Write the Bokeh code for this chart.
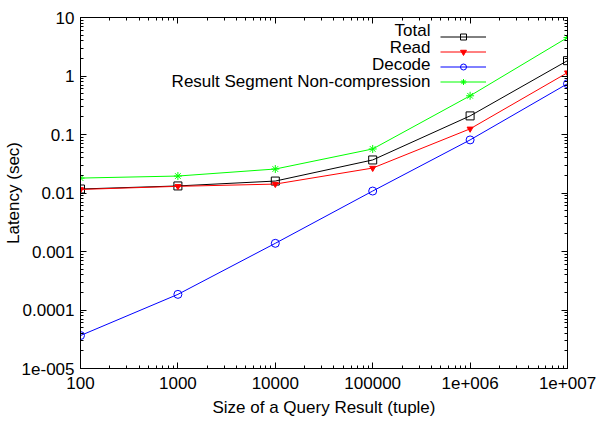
from bokeh.plotting import figure
from bokeh.models import (FixedTicker, LogAxis, Legend, LegendItem, Label, ColumnDataSource)
from bokeh.embed import file_html
from bokeh.resources import INLINE

# ---- data ----
sizes = [100, 1000, 10000, 100000, 1000000, 10000000]
total = [0.0117, 0.0132, 0.0160, 0.0367, 0.208, 1.83]
read = [0.0115, 0.0130, 0.0142, 0.0267, 0.125, 1.14]
decode = [3.66e-5, 1.85e-4, 1.38e-3, 0.0108, 0.0808, 0.738]
result_seg = [0.0180, 0.0195, 0.0257, 0.0566, 0.459, 4.54]

x_ticks = [100, 1000, 10000, 100000, 1000000, 10000000]
x_tick_labels = ["100", "1000", "10000", "100000", "1e+006", "1e+007"]
y_ticks = [1e-5, 1e-4, 1e-3, 1e-2, 1e-1, 1, 10]
y_tick_labels = ["1e-005", "0.0001", "0.001", "0.01", "0.1", "1", "10"]

series_names = ["Total", "Read", "Decode", "Result Segment Non-compression"]
series_values = [total, read, decode, result_seg]
colors = ["#000000", "#ff0000", "#0000ff", "#00ff00"]
markers = ["square", "inverted_triangle", "circle", "asterisk"]
FONT = "Liberation Sans"
FS = "17px"

p = figure(width=597, height=423, x_axis_type="log", y_axis_type="log",
           x_range=(100, 1e7), y_range=(1e-5, 10),
           output_backend="svg", toolbar_location=None,
           min_border_left=80, min_border_right=30, min_border_top=17, min_border_bottom=55)
p.xgrid.visible = False
p.ygrid.visible = False
p.outline_line_color = "black"
p.outline_line_width = 1

def minors(lo, hi):
    out = []
    e = lo
    while e < hi:
        for k in range(2, 10):
            out.append(k * 10.0 ** e)
        e += 1
    return out

xt = FixedTicker(ticks=x_ticks, minor_ticks=minors(2, 7))
yt = FixedTicker(ticks=y_ticks, minor_ticks=minors(-5, 1))

def style(ax, labels=None):
    ax.major_tick_in = 6
    ax.major_tick_out = 0
    ax.minor_tick_in = 3
    ax.minor_tick_out = 0
    ax.axis_line_color = "black"
    ax.major_tick_line_color = "black"
    ax.minor_tick_line_color = "black"
    ax.major_label_text_font = FONT
    ax.major_label_text_font_size = FS
    ax.major_label_text_color = "black"
    ax.axis_label_text_font = FONT
    ax.axis_label_text_font_size = FS
    ax.axis_label_text_font_style = "normal"
    ax.axis_label_text_color = "black"
    if labels is not None:
        ax.major_label_overrides = labels

xax = p.xaxis[0]
xax.ticker = xt
style(xax, {t: l for t, l in zip(x_ticks, x_tick_labels)})
xax.axis_label = "Size of a Query Result (tuple)"
xax.major_label_standoff = 8
xax.axis_label_standoff = 6

yax = p.yaxis[0]
yax.ticker = yt
style(yax, {t: l for t, l in zip(y_ticks, y_tick_labels)})
yax.axis_label = "Latency (sec)"
yax.major_label_standoff = 6
yax.axis_label_standoff = -4

top = LogAxis(ticker=xt)
style(top)
top.major_label_text_alpha = 0
top.major_label_text_font_size = "2px"
p.add_layout(top, "above")
right = LogAxis(ticker=yt)
style(right)
right.major_label_text_alpha = 0
right.major_label_text_font_size = "2px"
p.add_layout(right, "right")

items = []
for name, vals, c, m in zip(series_names, series_values, colors, markers):
    src = ColumnDataSource(dict(x=sizes, y=vals))
    ln = p.line("x", "y", source=src, line_color=c, line_width=1)
    if m == "inverted_triangle":
        mk = p.scatter("x", "y", source=src, marker=m, size=6, line_color=c, fill_color=c)
    else:
        mk = p.scatter("x", "y", source=src, marker=m, size=8, line_color=c, fill_color=None, line_width=1)
    items.append(LegendItem(label=".", renderers=[ln, mk]))

leg = Legend(items=items, location=(360, 279), glyph_width=46, glyph_height=15,
             label_height=15, label_width=1, label_standoff=0, spacing=0, padding=0,
             margin=0, background_fill_alpha=0, border_line_color=None,
             label_text_alpha=0, label_text_font_size="10px")
p.add_layout(leg)

for i, name in enumerate(series_names):
    p.add_layout(Label(x=350, y=338 - i * 16.9, x_units="screen", y_units="screen",
                       text=name, text_align="right", text_baseline="middle",
                       text_font=FONT, text_font_size=FS, text_color="black"))

open("out.html", "w").write(file_html(p, INLINE))
